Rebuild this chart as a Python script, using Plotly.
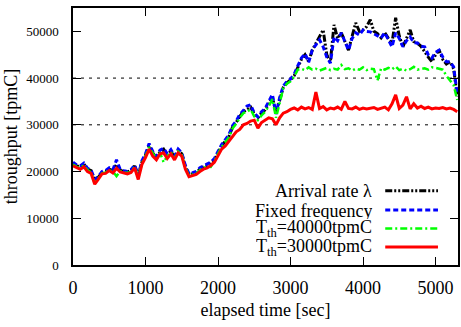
import plotly.graph_objects as go

t = list(range(0, 5301, 50))

arrival = [
    21800, 21200, 21000, 21600, 20500, 20200, 18200, 18800, 19800, 20000,
    20500, 20200, 21500, 20300, 20000, 19900, 20200, 21200, 19000, 22000,
    23500, 25500, 24000, 22900, 24200, 24800, 23500, 24400, 23000, 24500,
    23800, 21000, 19300, 19600, 19800, 20500, 21000, 21300, 21800, 22500,
    24000, 25500, 26500, 27500, 29500, 30500, 31800, 32800, 33300, 33800,
    32300, 31500, 32500, 33200, 34500, 36000, 32500, 35500, 38000, 39000,
    39600, 40500, 42400, 44000, 45000, 43500, 46000, 47500, 49000, 50300,
    45000, 43500, 51400, 48500, 49700, 48000, 46000, 49000, 51800, 50000,
    50300, 51000, 52500, 50000, 49500, 48600, 49700, 48500, 47500, 52900,
    49000, 46700, 48500, 50300, 47800, 47500, 46800, 45500, 44500, 43500,
    45000, 46000, 44000, 43000, 43500, 42000, 36000,
]
fixed = [
    22000, 21400, 21200, 21800, 20700, 20300, 18300, 19000, 20000, 20200,
    20800, 20400, 22500, 20500, 20200, 20000, 20400, 21400, 19200, 22300,
    23800, 26000, 24300, 23200, 24600, 25000, 23800, 24700, 23300, 24800,
    24000, 21300, 19500, 19800, 20000, 20800, 21200, 21600, 22000, 22800,
    24300, 25800, 26800, 27900, 29800, 30800, 32200, 33200, 34000, 34300,
    32500, 31700, 32800, 33500, 35000, 36500, 32300, 35800, 38300, 39300,
    39800, 40800, 42600, 44300, 45200, 43400, 46000, 47200, 48200, 46700,
    44500, 43200, 48800, 48000, 49700, 47800, 46000, 48500, 49700, 49200,
    50300, 50000, 49900, 49500, 49000, 48600, 49700, 48200, 46700, 49700,
    48500, 46700, 48000, 48800, 47600, 47500, 46800, 46700, 45000, 44300,
    45500, 46000, 44500, 43500, 43500, 42400, 36500,
]
th40000 = [
    21500, 21000, 20800, 21300, 20300, 19800, 17500, 18600, 19600, 19800,
    20300, 20000, 19000, 20100, 19800, 19700, 20000, 21000, 18700, 21800,
    23300, 25200, 23800, 22700, 24000, 22000, 23300, 24200, 22800, 24300,
    23600, 20800, 19100, 19400, 19600, 20300, 20800, 21100, 21000, 22300,
    23800, 25300, 26300, 27300, 29200, 30200, 31500, 32500, 32800, 33300,
    31800, 31000, 32000, 32800, 34000, 35500, 31500, 35000, 37800, 38800,
    39300, 40300, 41800, 42000, 41700, 42300, 41800, 42000, 41600, 41900,
    42200, 41700, 42000, 41800, 42800, 41900, 42100, 41600, 42000, 41800,
    42300, 41700, 42000, 41900, 39500, 42100, 41800, 42200, 41900, 42500,
    41700, 42000, 41600, 41900, 42400, 41800, 42000, 42100, 41800, 42300,
    42200, 42000, 41800, 40500, 39500, 38500, 35300,
]
th30000 = [
    21200, 20800, 20500, 21000, 20000, 19600, 17300, 18400, 19500, 19600,
    20200, 19700, 20700, 19900, 19700, 19500, 19800, 20800, 18300, 21500,
    23000, 24800, 23300, 22500, 23800, 24000, 22800, 23800, 22500, 24000,
    23300, 20500, 18900, 19200, 19400, 20000, 20500, 20800, 21300, 22000,
    23300, 24800, 25500, 26500, 27500, 28500, 29000, 30000, 30300, 30800,
    31000, 29300, 30500, 31000, 31500, 31300, 30000, 31500, 32500, 32800,
    33300, 33600, 33200, 33800, 33400, 33700, 33300, 37000, 33500, 33900,
    33200, 33600, 33400, 33800, 33300, 35000, 33500, 33400, 33800, 33300,
    33600, 33400, 33500, 33700, 33300, 33600, 33800, 33200, 34500, 36400,
    33500, 34200, 36000, 33400, 34500, 33600, 34000, 33500, 33800, 33400,
    33600, 33500, 33700, 33400, 33600, 33300, 32800,
]

x_ticks = [0, 1000, 2000, 3000, 4000, 5000]
y_ticks = [0, 10000, 20000, 30000, 40000, 50000]
ref_lines = [30000, 40000]

series = [
    ("Arrival rate λ", arrival, "#000000", "7px,2px,2px,2px,2px,2px", 3),
    ("Fixed frequency", fixed, "#0000ff", "5px,3px", 3),
    ("T<sub>th</sub>=40000tpmC", th40000, "#00ff00", "7px,3px,2px,3px", 2.5),
    ("T<sub>th</sub>=30000tpmC", th30000, "#ff0000", "solid", 3),
]

FONT = "Liberation Serif"
fig = go.Figure()

for name, vals, col, dash, w in series:
    fig.add_trace(go.Scatter(x=t, y=vals, mode="lines", name=name,
                             line=dict(color=col, dash=dash, width=w),
                             showlegend=False))

for v in ref_lines:
    fig.add_shape(type="line", xref="paper", yref="y", x0=0, x1=1, y0=v, y1=v,
                  line=dict(color="black", width=1, dash="3px,5px"), layer="below")

# manual gnuplot-style key (text right-aligned, sample on the right)
key_rows = [0.289, 0.214, 0.142, 0.07]
for (name, vals, col, dash, w), yy in zip(series, key_rows):
    fig.add_annotation(xref="paper", yref="paper", x=0.778, y=yy, text=name,
                       showarrow=False, xanchor="right", yanchor="middle",
                       height=17, valign="middle", borderpad=0,
                       font=dict(family=FONT, size=18, color="black"))
    fig.add_shape(type="line", xref="paper", yref="paper", x0=0.811, x1=0.948,
                  y0=yy, y1=yy, line=dict(color=col, dash=dash, width=w))

fig.update_layout(
    width=461, height=327,
    margin=dict(l=73, r=1, t=8, b=62),
    paper_bgcolor="white", plot_bgcolor="white",
    font=dict(family=FONT, color="black"),
)
fig.update_xaxes(range=[0, 5310], tickvals=x_ticks, ticks="inside", ticklen=8,
                 tickcolor="black", showline=True, linecolor="black", linewidth=1.5,
                 mirror="ticks", showgrid=False, zeroline=False,
                 tickfont=dict(family=FONT, size=18), ticklabelstandoff=6,
                 title=dict(text="elapsed time [sec]", font=dict(family=FONT, size=18), standoff=6))
fig.update_yaxes(range=[0, 55000], tickvals=y_ticks, tickformat="d", ticks="inside", ticklen=8,
                 tickcolor="black", showline=True, linecolor="black", linewidth=1.5,
                 mirror="ticks", showgrid=False, zeroline=False,
                 tickfont=dict(family=FONT, size=13), ticklabelstandoff=10,
                 title=dict(text="throughput [tpmC]", font=dict(family=FONT, size=18), standoff=4))

fig.write_html("out.html")
